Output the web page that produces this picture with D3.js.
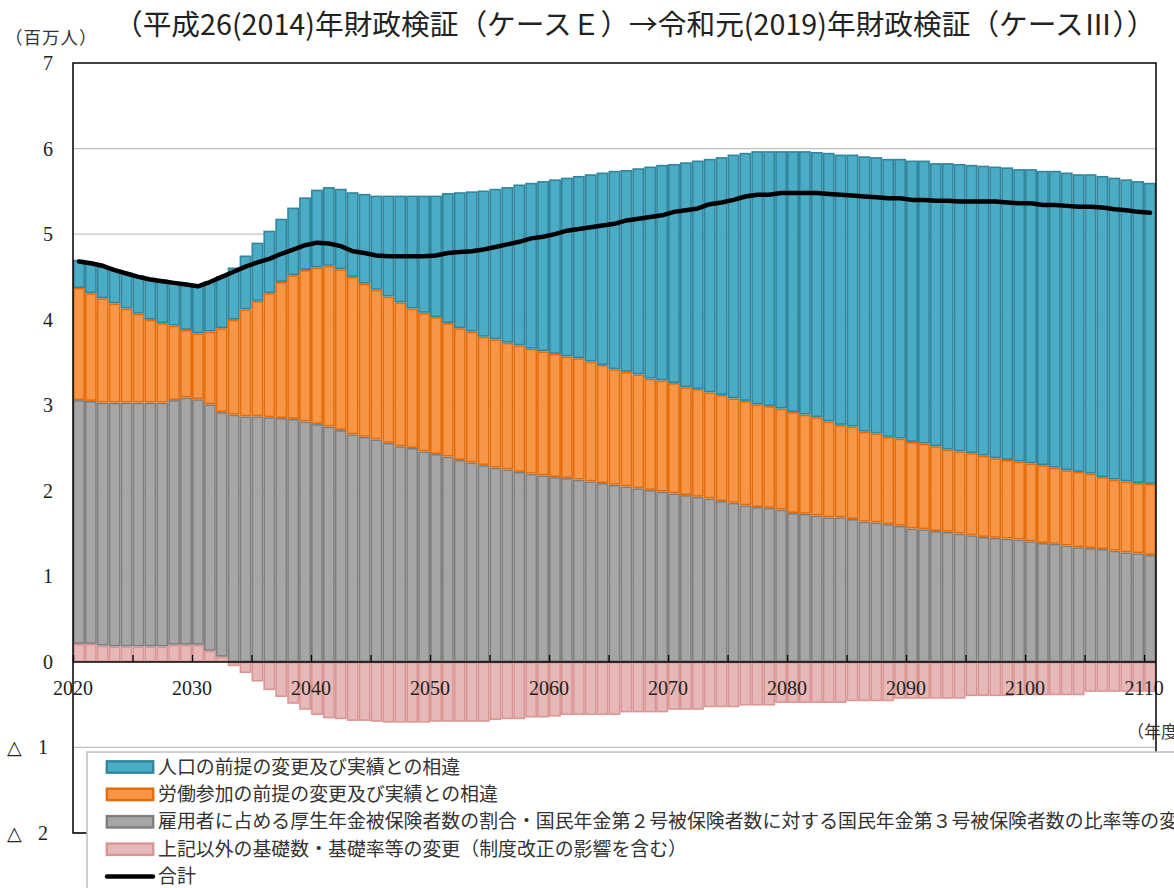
<!DOCTYPE html>
<html lang="ja">
    <head>
        <meta charset="utf-8">
        <title>財政検証 差異の要因分解</title>
        <script type="text/javascript" src="https://cdn.jsdelivr.net/npm/d3@7/dist/d3.min.js"></script>
        <style>
            body { margin: 0; background: #fff; overflow: hidden; }
        </style>
    </head>
    <body>
        <script type="text/javascript">

            //years on the x axis
            var years = [2020, 2021, 2022, 2023, 2024, 2025, 2026, 2027, 2028, 2029,
                         2030, 2031, 2032, 2033, 2034, 2035, 2036, 2037, 2038, 2039,
                         2040, 2041, 2042, 2043, 2044, 2045, 2046, 2047, 2048, 2049,
                         2050, 2051, 2052, 2053, 2054, 2055, 2056, 2057, 2058, 2059,
                         2060, 2061, 2062, 2063, 2064, 2065, 2066, 2067, 2068, 2069,
                         2070, 2071, 2072, 2073, 2074, 2075, 2076, 2077, 2078, 2079,
                         2080, 2081, 2082, 2083, 2084, 2085, 2086, 2087, 2088, 2089,
                         2090, 2091, 2092, 2093, 2094, 2095, 2096, 2097, 2098, 2099,
                         2100, 2101, 2102, 2103, 2104, 2105, 2106, 2107, 2108, 2109,
                         2110];

            //上記以外の基礎数・基礎率等の変更
            var pinkValues = [0.21, 0.21, 0.19, 0.18, 0.18, 0.18, 0.18, 0.18, 0.20, 0.20,
                              0.20, 0.13, 0.06, -0.05, -0.13, -0.23, -0.33, -0.41, -0.49, -0.56,
                              -0.62, -0.66, -0.67, -0.69, -0.69, -0.70, -0.71, -0.71, -0.71, -0.71,
                              -0.70, -0.70, -0.70, -0.70, -0.70, -0.68, -0.67, -0.67, -0.65, -0.65,
                              -0.64, -0.62, -0.62, -0.62, -0.62, -0.62, -0.59, -0.59, -0.59, -0.59,
                              -0.56, -0.56, -0.56, -0.53, -0.53, -0.53, -0.51, -0.51, -0.51, -0.48,
                              -0.48, -0.48, -0.48, -0.48, -0.48, -0.46, -0.46, -0.46, -0.46, -0.43,
                              -0.43, -0.43, -0.43, -0.43, -0.43, -0.40, -0.40, -0.40, -0.40, -0.39,
                              -0.39, -0.39, -0.39, -0.39, -0.39, -0.35, -0.35, -0.35, -0.35, -0.35,
                              -0.35];

            //雇用者に占める厚生年金被保険者数の割合・・・
            var grayValues = [2.85, 2.84, 2.84, 2.85, 2.85, 2.85, 2.85, 2.85, 2.86, 2.89,
                              2.87, 2.88, 2.86, 2.89, 2.87, 2.87, 2.86, 2.85, 2.84, 2.81,
                              2.78, 2.75, 2.71, 2.66, 2.63, 2.60, 2.56, 2.52, 2.50, 2.46,
                              2.43, 2.40, 2.36, 2.33, 2.30, 2.27, 2.25, 2.22, 2.20, 2.18,
                              2.16, 2.15, 2.13, 2.11, 2.09, 2.07, 2.05, 2.03, 2.01, 1.99,
                              1.97, 1.95, 1.93, 1.91, 1.88, 1.86, 1.83, 1.81, 1.80, 1.78,
                              1.74, 1.73, 1.71, 1.69, 1.69, 1.67, 1.64, 1.63, 1.61, 1.59,
                              1.56, 1.55, 1.53, 1.52, 1.50, 1.48, 1.46, 1.45, 1.44, 1.43,
                              1.41, 1.39, 1.38, 1.36, 1.34, 1.33, 1.32, 1.30, 1.28, 1.27,
                              1.25];

            //労働参加の前提の変更及び実績との相違
            var orangeValues = [1.31, 1.26, 1.22, 1.16, 1.10, 1.04, 0.97, 0.93, 0.87, 0.79,
                                0.77, 0.85, 0.98, 1.11, 1.25, 1.35, 1.45, 1.59, 1.68, 1.77,
                                1.83, 1.88, 1.88, 1.84, 1.79, 1.75, 1.71, 1.68, 1.63, 1.62,
                                1.60, 1.56, 1.54, 1.53, 1.50, 1.50, 1.48, 1.48, 1.46, 1.45,
                                1.44, 1.42, 1.42, 1.40, 1.38, 1.35, 1.34, 1.33, 1.30, 1.30,
                                1.29, 1.26, 1.26, 1.24, 1.24, 1.22, 1.22, 1.20, 1.19, 1.18,
                                1.18, 1.16, 1.15, 1.12, 1.08, 1.08, 1.05, 1.04, 1.02, 1.02,
                                1.01, 1.00, 0.99, 0.96, 0.96, 0.96, 0.95, 0.93, 0.92, 0.91,
                                0.91, 0.91, 0.89, 0.88, 0.88, 0.87, 0.84, 0.83, 0.83, 0.82,
                                0.83];

            //人口の前提の変更及び実績との相違
            var tealValues = [0.33, 0.36, 0.37, 0.40, 0.42, 0.45, 0.49, 0.51, 0.51, 0.54,
                              0.56, 0.59, 0.61, 0.61, 0.63, 0.68, 0.73, 0.74, 0.79, 0.85,
                              0.91, 0.92, 0.94, 0.99, 1.05, 1.10, 1.18, 1.25, 1.32, 1.37,
                              1.42, 1.52, 1.59, 1.64, 1.71, 1.76, 1.82, 1.88, 1.94, 1.99,
                              2.04, 2.09, 2.13, 2.19, 2.25, 2.32, 2.36, 2.41, 2.48, 2.52,
                              2.56, 2.63, 2.67, 2.73, 2.78, 2.85, 2.90, 2.96, 2.98, 3.01,
                              3.05, 3.08, 3.10, 3.14, 3.16, 3.18, 3.22, 3.23, 3.25, 3.27,
                              3.29, 3.31, 3.31, 3.35, 3.36, 3.37, 3.39, 3.41, 3.42, 3.42,
                              3.44, 3.44, 3.47, 3.48, 3.48, 3.50, 3.52, 3.53, 3.53, 3.53,
                              3.52];

            //合計
            var totalValues = [4.68, 4.66, 4.63, 4.58, 4.54, 4.50, 4.47, 4.45, 4.43, 4.41,
                               4.39, 4.44, 4.50, 4.56, 4.62, 4.67, 4.71, 4.77, 4.82, 4.87,
                               4.90, 4.89, 4.86, 4.80, 4.78, 4.75, 4.74, 4.74, 4.74, 4.74,
                               4.75, 4.78, 4.79, 4.80, 4.82, 4.85, 4.88, 4.91, 4.95, 4.97,
                               5.00, 5.04, 5.06, 5.08, 5.10, 5.12, 5.16, 5.18, 5.20, 5.22,
                               5.26, 5.28, 5.30, 5.35, 5.37, 5.40, 5.44, 5.46, 5.46, 5.48,
                               5.48, 5.48, 5.48, 5.47, 5.46, 5.45, 5.44, 5.43, 5.42, 5.42,
                               5.40, 5.40, 5.39, 5.39, 5.38, 5.38, 5.38, 5.38, 5.37, 5.36,
                               5.36, 5.34, 5.34, 5.33, 5.32, 5.32, 5.31, 5.29, 5.28, 5.26,
                               5.25];

            var xTickLabels = [2020, 2030, 2040, 2050, 2060, 2070, 2080, 2090, 2100, 2110];
            var yTickValues = [7, 6, 5, 4, 3, 2, 1, 0, -1, -2];

            var seriesKeys = ["pink", "gray", "orange", "teal"];
            var legendLabels = [
                "人口の前提の変更及び実績との相違",
                "労働参加の前提の変更及び実績との相違",
                "雇用者に占める厚生年金被保険者数の割合・国民年金第２号被保険者数に対する国民年金第３号被保険者数の比率等の変更",
                "上記以外の基礎数・基礎率等の変更（制度改正の影響を含む）",
                "合計"
            ];

            //fill and border colours per series
            var fills = { pink: "#e6b9b8", gray: "#a6a6a6", orange: "#f79646", teal: "#4bacc6" };
            var strokes = { pink: "#d99694", gray: "#7f7f7f", orange: "#e46c0a", teal: "#31859c" };

            //width and height
            var svgWidth = 1174;
            var svgHeight = 888;
            var plotLeft = 73;
            var plotRight = 1156;
            var plotTop = 63;
            var plotBottom = 833;

            var svg = d3.select("body")
                        .append("svg")
                        .attr("width", svgWidth)
                        .attr("height", svgHeight);

            //build rows for the stack
            var rows = years.map(function(y, i) {
                return {
                    year: y,
                    pink: pinkValues[i],
                    gray: grayValues[i],
                    orange: orangeValues[i],
                    teal: tealValues[i]
                };
            });

            var stacked = d3.stack()
                            .keys(seriesKeys)
                            .offset(d3.stackOffsetDiverging)(rows);

            var xScale = d3.scaleBand()
                           .domain(years)
                           .range([plotLeft, plotRight])
                           .padding(0);

            var yScale = d3.scaleLinear()
                           .domain([-2, 7])
                           .range([plotBottom, plotTop]);

            var bw = xScale.bandwidth();
            var sw = 1.6;

            //grid lines
            svg.append("g")
               .selectAll("line")
               .data(yTickValues.filter(function(v) { return v !== 7 && v !== 0; }))
               .enter()
               .append("line")
               .attr("x1", plotLeft)
               .attr("x2", plotRight)
               .attr("y1", function(d) { return yScale(d); })
               .attr("y2", function(d) { return yScale(d); })
               .attr("stroke", "#c0c0c0")
               .attr("stroke-width", 1.3);

            //stacked bars
            svg.append("g")
               .selectAll("g")
               .data(stacked)
               .enter()
               .append("g")
               .attr("fill", function(s) { return fills[s.key]; })
               .attr("stroke", function(s) { return strokes[s.key]; })
               .attr("stroke-width", sw)
               .selectAll("rect")
               .data(function(s) { return s; })
               .enter()
               .append("rect")
               .attr("x", function(d) { return xScale(d.data.year) + sw / 2; })
               .attr("width", bw - sw)
               .attr("y", function(d) { return yScale(d[1]) + sw / 2; })
               .attr("height", function(d) {
                   return Math.max(0, yScale(d[0]) - yScale(d[1]) - sw);
               });

            //total line
            var line = d3.line()
                         .x(function(d, i) { return xScale(years[i]) + bw / 2; })
                         .y(function(d) { return yScale(d); });

            svg.append("path")
               .datum(totalValues)
               .attr("d", line)
               .attr("fill", "none")
               .attr("stroke", "#000")
               .attr("stroke-width", 4.5)
               .attr("stroke-linejoin", "round")
               .attr("stroke-linecap", "round");

            //x axis on zero, ticks pointing up
            var xAxis = d3.axisTop(d3.scaleLinear().domain([2020, 2111]).range([plotLeft, plotRight]))
                          .tickValues(years.filter(function(y) { return y % 5 === 0; }))
                          .tickSize(7)
                          .tickFormat("");

            svg.append("g")
               .attr("transform", "translate(0," + yScale(0) + ")")
               .call(xAxis)
               .call(function(g) {
                   g.select(".domain").attr("stroke", "#000").attr("stroke-width", 1.5)
                    .attr("d", "M" + plotLeft + ",0H" + plotRight);
                   g.selectAll(".tick line").attr("stroke", "#000").attr("stroke-width", 1.3);
               });

            svg.append("g")
               .selectAll("text")
               .data(xTickLabels)
               .enter()
               .append("text")
               .attr("x", function(d) { return xScale(d); })
               .attr("y", yScale(0) + 33)
               .attr("text-anchor", "middle")
               .attr("font-family", "Liberation Serif, DejaVu Serif, serif")
               .attr("font-size", "20px")
               .attr("fill", "#222")
               .text(function(d) { return d; });

            //y labels
            var yLabels = svg.append("g")
                             .attr("font-family", "Liberation Serif, DejaVu Serif, serif")
                             .attr("font-size", "20px")
                             .attr("fill", "#222");

            yLabels.selectAll("text.num")
                   .data(yTickValues)
                   .enter()
                   .append("text")
                   .attr("class", "num")
                   .attr("x", function(d) { return d < 0 ? 48 : 53; })
                   .attr("y", function(d) { return yScale(d) + 7; })
                   .attr("text-anchor", "end")
                   .text(function(d) { return Math.abs(d); });

            yLabels.selectAll("text.tri")
                   .data(yTickValues.filter(function(v) { return v < 0; }))
                   .enter()
                   .append("text")
                   .attr("class", "tri")
                   .attr("x", 7)
                   .attr("y", function(d) { return yScale(d) + 7; })
                   .attr("font-family", "DejaVu Sans, sans-serif")
                   .attr("font-size", "19px")
                   .text("△");

            //plot frame
            svg.append("rect")
               .attr("x", plotLeft)
               .attr("y", plotTop)
               .attr("width", plotRight - plotLeft)
               .attr("height", plotBottom - plotTop)
               .attr("fill", "none")
               .attr("stroke", "#000")
               .attr("stroke-width", 1.5);

            //unit labels
            svg.append("text")
               .attr("x", 5)
               .attr("y", 44)
               .attr("font-family", "Noto Sans CJK JP, sans-serif")
               .attr("font-size", "17.5px")
               .attr("letter-spacing", "1px")
               .attr("fill", "#333")
               .text("（百万人）");

            svg.append("text")
               .attr("x", 1127)
               .attr("y", 738)
               .attr("font-family", "Noto Sans CJK JP, sans-serif")
               .attr("font-size", "17px")
               .attr("fill", "#333")
               .text("（年度）");

            //title
            svg.append("text")
               .attr("x", 114)
               .attr("y", 35)
               .attr("font-family", "Noto Sans CJK JP, sans-serif")
               .attr("font-size", "28.7px")
               .attr("fill", "#222")
               .text("（平成26(2014)年財政検証（ケースＥ）→令和元(2019)年財政検証（ケースⅢ））");

            //legend
            var legend = svg.append("g");

            legend.append("rect")
                  .attr("x", 87)
                  .attr("y", 752)
                  .attr("width", 1200)
                  .attr("height", 200)
                  .attr("fill", "#fff")
                  .attr("stroke", "#bfbfbf")
                  .attr("stroke-width", 1.5);

            var legendKeys = ["teal", "orange", "gray", "pink", "total"];
            var rowGap = 27.4;

            var items = legend.selectAll("g.item")
                              .data(legendKeys)
                              .enter()
                              .append("g")
                              .attr("class", "item")
                              .attr("transform", function(d, i) {
                                  return "translate(106," + (767 + i * rowGap) + ")";
                              });

            items.filter(function(d) { return d !== "total"; })
                 .append("rect")
                 .attr("x", sw / 2)
                 .attr("y", -6.5 + sw / 2)
                 .attr("width", 48 - sw)
                 .attr("height", 13 - sw)
                 .attr("fill", function(d) { return fills[d]; })
                 .attr("stroke", function(d) { return strokes[d]; })
                 .attr("stroke-width", sw + 0.8);

            items.filter(function(d) { return d === "total"; })
                 .append("line")
                 .attr("x1", 1)
                 .attr("x2", 47)
                 .attr("y1", 0)
                 .attr("y2", 0)
                 .attr("stroke", "#000")
                 .attr("stroke-width", 4.5)
                 .attr("stroke-linecap", "round");

            items.append("text")
                 .attr("x", 52)
                 .attr("y", 6.5)
                 .attr("font-family", "Noto Sans CJK JP, sans-serif")
                 .attr("font-size", "18.9px")
                 .attr("fill", "#333")
                 .text(function(d, i) { return legendLabels[i]; });

        </script>
    </body>
</html>
